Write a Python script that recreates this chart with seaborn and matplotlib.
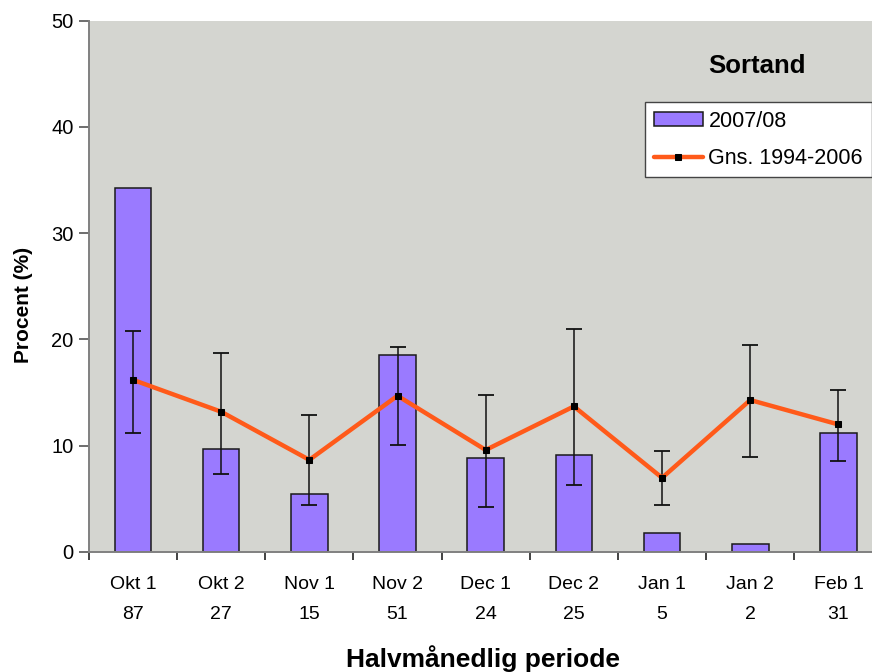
import numpy as np
import pandas as pd
import matplotlib
matplotlib.use("Agg")
import matplotlib.pyplot as plt
import seaborn as sns

periods = ["Okt 1", "Okt 2", "Nov 1", "Nov 2", "Dec 1", "Dec 2", "Jan 1", "Jan 2", "Feb 1"]
counts = ["87", "27", "15", "51", "24", "25", "5", "2", "31"]
season_pct = [34.3, 9.7, 5.45, 18.5, 8.8, 9.1, 1.8, 0.73, 11.2]
avg_pct = [16.2, 13.2, 8.67, 14.7, 9.6, 13.7, 6.98, 14.3, 12.0]
avg_upper = [20.8, 18.7, 12.9, 19.3, 14.8, 21.0, 9.5, 19.5, 15.2]
avg_lower = [11.2, 7.3, 4.45, 10.1, 4.26, 6.3, 4.45, 8.96, 8.6]

tick_labels = [f"{p}\n{c}" for p, c in zip(periods, counts)]

sns.set_theme(style="white")
plt.rcParams["font.family"] = ["Liberation Sans", "DejaVu Sans"]
plt.rcParams["text.color"] = "black"
plt.rcParams["axes.labelcolor"] = "black"
plt.rcParams["xtick.color"] = "black"
plt.rcParams["ytick.color"] = "black"

df = pd.DataFrame({"period": periods, "season": season_pct, "avg": avg_pct})

fig = plt.figure(figsize=(8.72, 6.72), dpi=100)
fig.patch.set_facecolor("white")
ax = fig.add_axes([0.1019, 0.1786, 0.9102, 0.7906])
ax.set_facecolor("#D4D5D0")

sns.barplot(data=df, x="period", y="season", order=periods, color="#9A7AFF",
            saturation=1, width=0.415, edgecolor="#1a1a1a", linewidth=1.1,
            ax=ax, label="2007/08", zorder=2)

pos = np.arange(len(periods))
avg = np.array(avg_pct)
ax.errorbar(pos, avg, yerr=[avg - np.array(avg_lower), np.array(avg_upper) - avg],
            fmt="none", ecolor="#111111", elinewidth=1.1, capsize=5.5, capthick=1.3,
            zorder=3)

sns.lineplot(data=df, x="period", y="avg", color="#FF5A1A", linewidth=3.2,
             marker="s", markersize=4, markerfacecolor="black",
             markeredgecolor="black", ax=ax, label="Gns. 1994-2006",
             zorder=4, sort=False)

ax.set_ylim(0, 50)
ax.set_xlim(-0.5, len(periods) - 0.5)
ax.set_yticks([0, 10, 20, 30, 40, 50])
ax.set_xticks(pos)
ax.set_xticklabels(tick_labels, fontsize=14, linespacing=2.0)
ax.set_xticks(np.arange(-0.5, len(periods), 1), minor=True)
ax.tick_params(axis="x", which="major", length=0, pad=17)
ax.tick_params(axis="x", which="minor", length=6, width=1.2, color="#222222", direction="out", bottom=True)
ax.tick_params(axis="y", which="major", length=7, width=1.2, color="#555555", direction="out", left=True,
               labelsize=14.5, pad=4)

for s in ["top", "right"]:
    ax.spines[s].set_visible(False)
for s in ["left", "bottom"]:
    ax.spines[s].set_color("#808080")
    ax.spines[s].set_linewidth(1.4)

ax.set_xlabel("Halvmånedlig periode", fontsize=19, fontweight="bold")
ax.xaxis.set_label_coords(0.496, -0.176)
ax.set_ylabel("Procent (%)", fontsize=15, fontweight="bold")
ax.yaxis.set_label_coords(-0.0704, 0.465)

ax.text(0.842, 0.915, "Sortand", transform=ax.transAxes, ha="center", va="center",
        fontsize=18.5, fontweight="bold", color="black")

handles, labels = ax.get_legend_handles_labels()
order = [labels.index("2007/08"), labels.index("Gns. 1994-2006")]
leg = ax.legend([handles[i] for i in order], [labels[i] for i in order],
                loc="upper left", bbox_to_anchor=(0.7006, 0.847), fontsize=15.5,
                frameon=True, fancybox=False, edgecolor="#444444", framealpha=1,
                borderpad=0.4, handlelength=2.3, handleheight=0.6, labelspacing=0.75,
                handletextpad=0.25, borderaxespad=0)
leg.get_frame().set_linewidth(1.0)

fig.savefig("out.png", dpi=100, facecolor="white")
